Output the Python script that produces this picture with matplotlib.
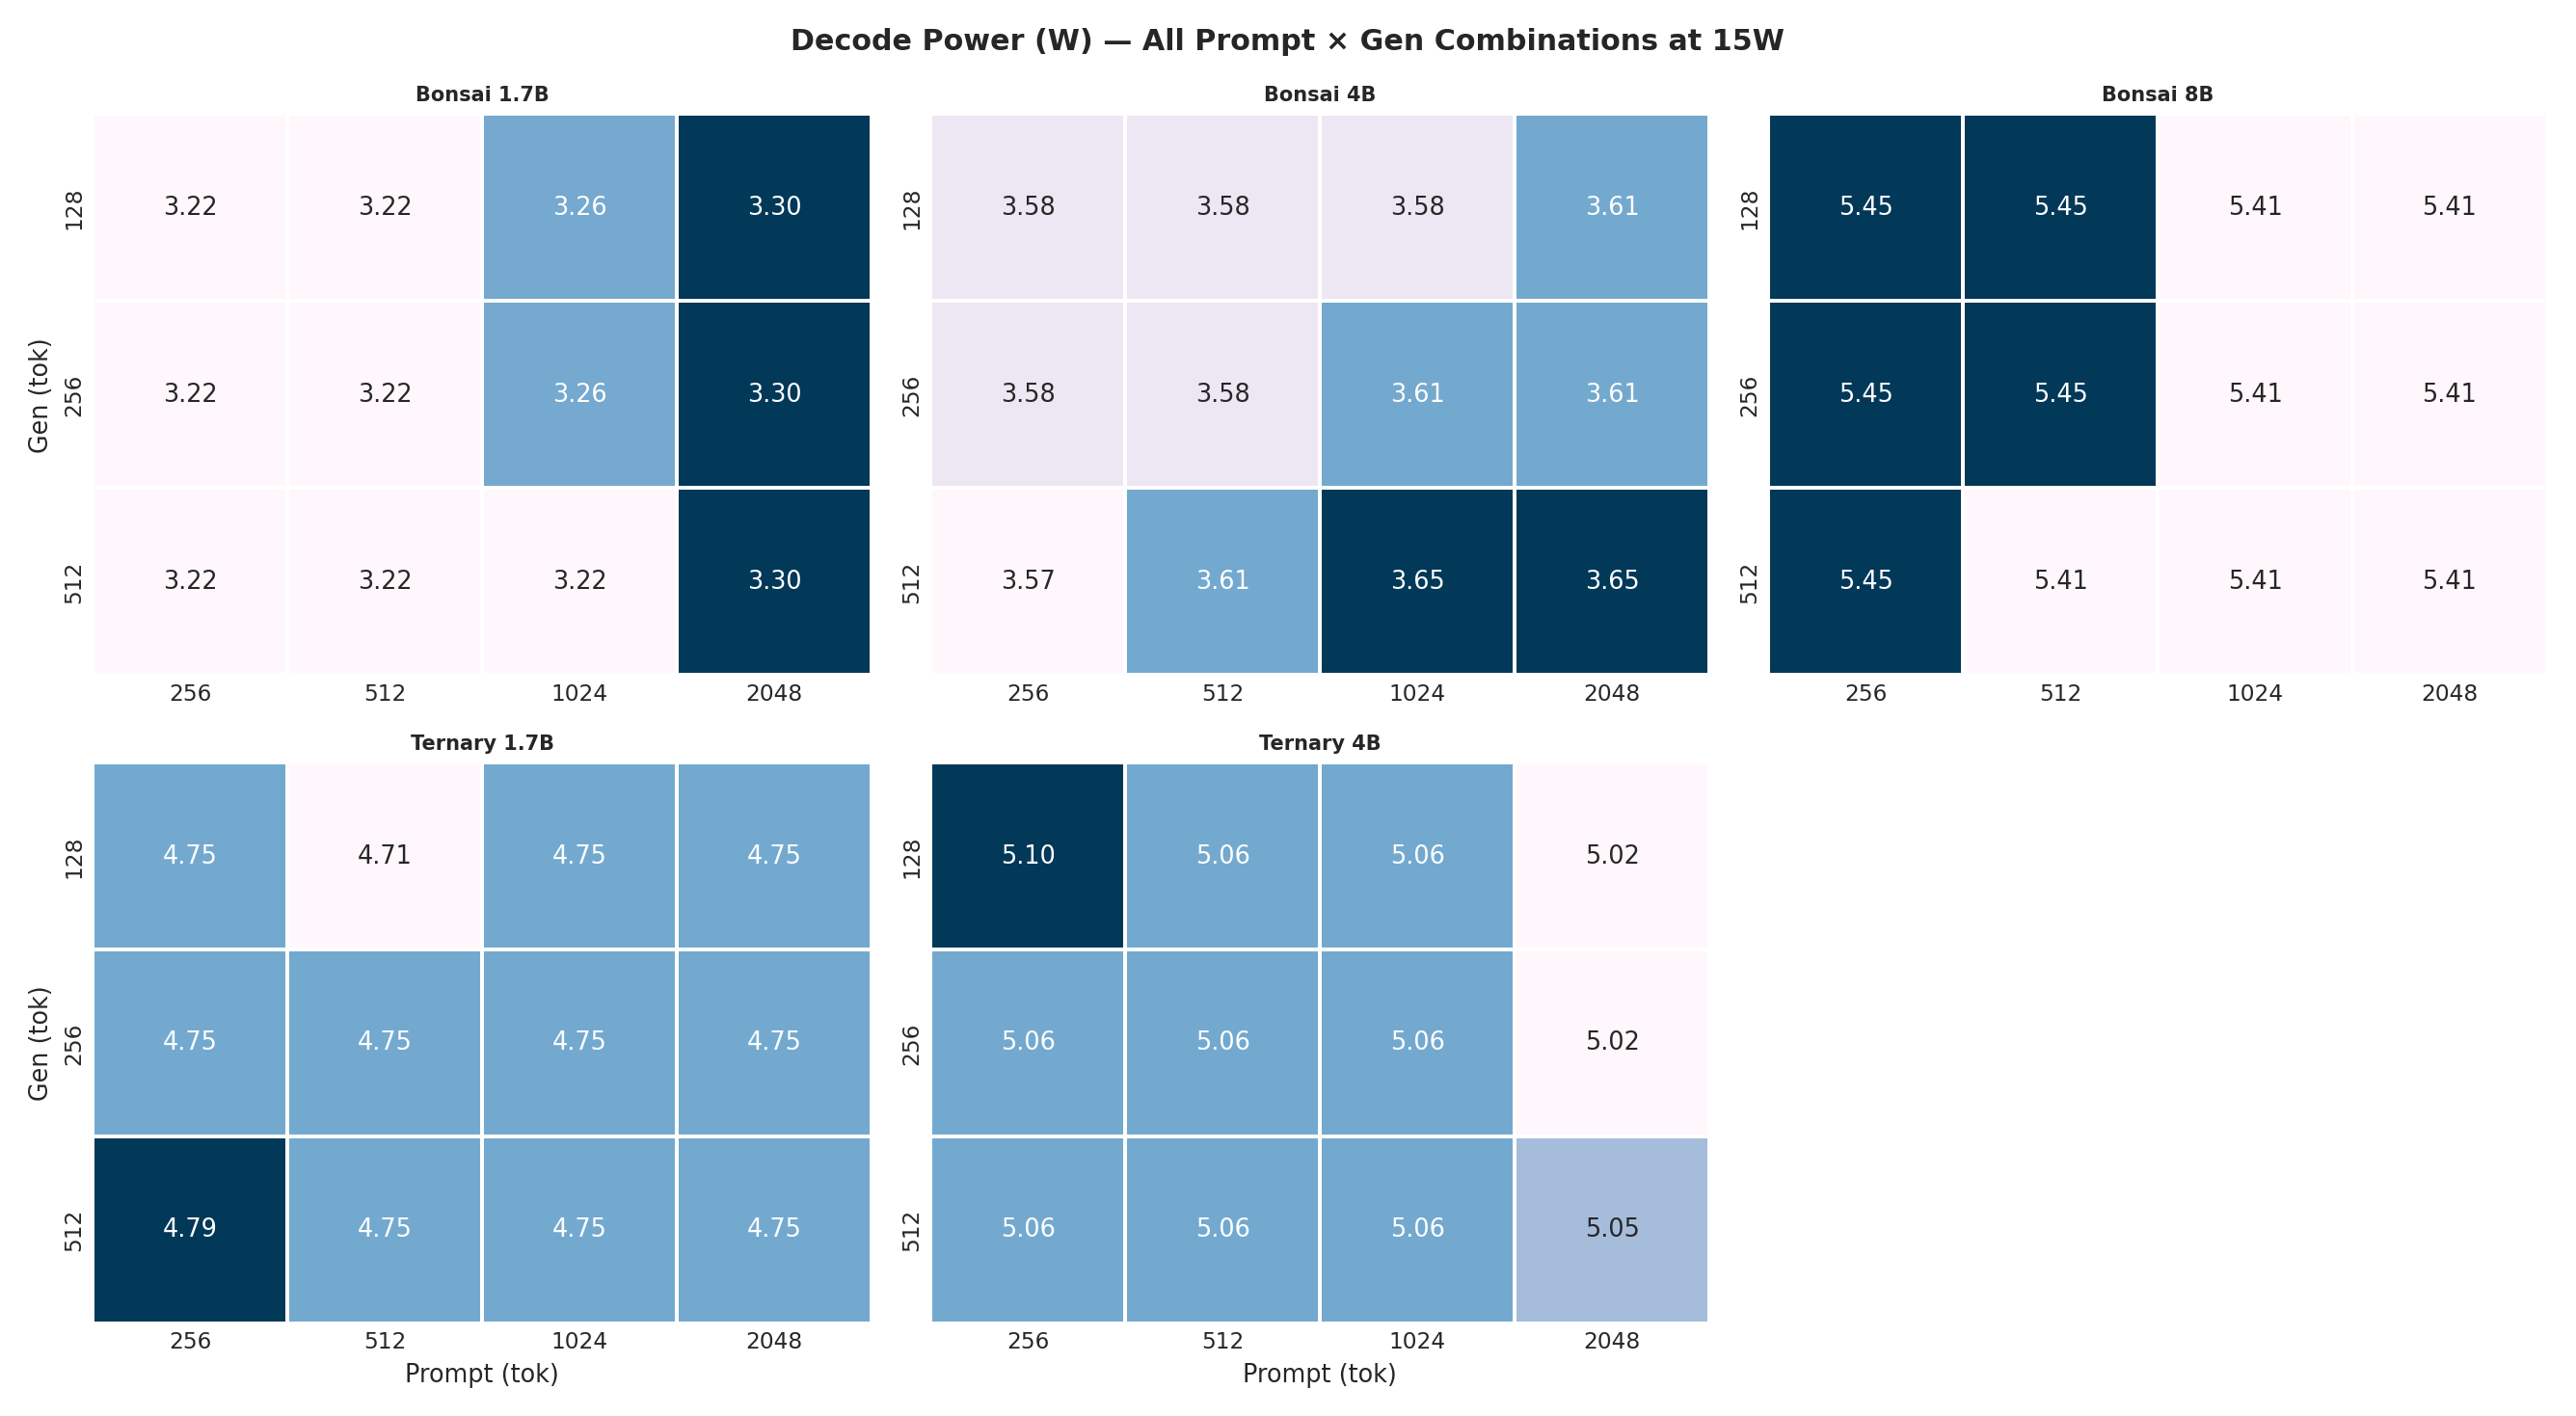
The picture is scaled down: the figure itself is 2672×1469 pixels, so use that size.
import matplotlib
matplotlib.use("Agg")
import matplotlib.pyplot as plt
import seaborn as sns
import numpy as np

sns.set_theme(style="white")
plt.rcParams['font.family'] = ['DejaVu Sans']

prompts = [256, 512, 1024, 2048]
gens = [128, 256, 512]
titles = ["Bonsai 1.7B", "Bonsai 4B", "Bonsai 8B", "Ternary 1.7B", "Ternary 4B"]
bonsai_17 = [[3.22, 3.22, 3.26, 3.30], [3.22, 3.22, 3.26, 3.30], [3.22, 3.22, 3.22, 3.30]]
bonsai_4 = [[3.58, 3.58, 3.58, 3.61], [3.58, 3.58, 3.61, 3.61], [3.57, 3.61, 3.65, 3.65]]
bonsai_8 = [[5.45, 5.45, 5.41, 5.41], [5.45, 5.45, 5.41, 5.41], [5.45, 5.41, 5.41, 5.41]]
ternary_17 = [[4.75, 4.71, 4.75, 4.75], [4.75, 4.75, 4.75, 4.75], [4.79, 4.75, 4.75, 4.75]]
ternary_4 = [[5.10, 5.06, 5.06, 5.02], [5.06, 5.06, 5.06, 5.02], [5.06, 5.06, 5.06, 5.05]]
data = [bonsai_17, bonsai_4, bonsai_8, ternary_17, ternary_4]

fig, axes = plt.subplots(2, 3, figsize=(16, 8.8), dpi=167)
for i, ax in enumerate(axes.flat):
    if i >= len(data):
        ax.axis("off")
        continue
    arr = np.array(data[i])
    sns.heatmap(arr, ax=ax, cmap="PuBu", annot=True, fmt=".2f", cbar=False,
                linewidths=1, linecolor="white", vmin=arr.min(), vmax=arr.max(),
                annot_kws={"size": 11}, xticklabels=prompts, yticklabels=gens)
    ax.set_title(titles[i], fontsize=9, fontweight="bold")
    ax.tick_params(length=0, labelsize=10)
    ax.set_ylabel("Gen (tok)" if i % 3 == 0 else "", fontsize=11)
    ax.set_xlabel("Prompt (tok)" if i >= 3 else "", fontsize=11)

fig.suptitle("Decode Power (W) — All Prompt × Gen Combinations at 15W", fontsize=13, fontweight="bold")
fig.tight_layout()
fig.savefig("out.png")
